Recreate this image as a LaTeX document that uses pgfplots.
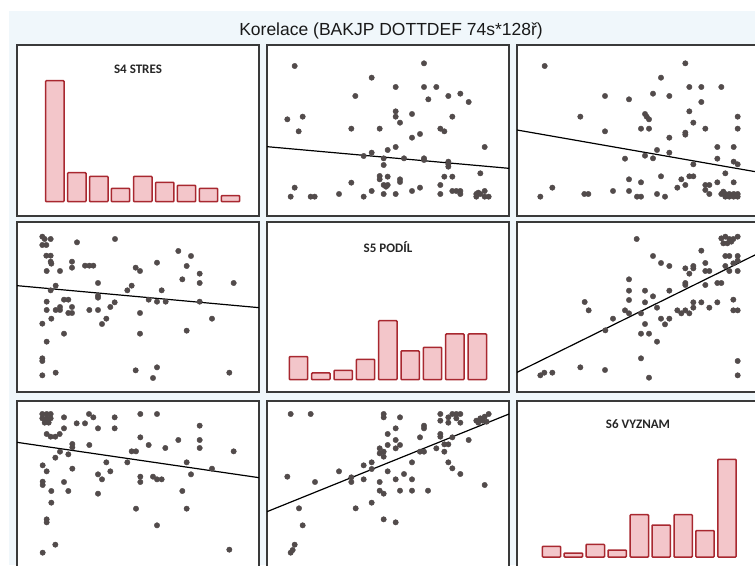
\documentclass[border=0pt]{standalone}
\usepackage{fontspec}
\setmainfont{Liberation Sans}
\newfontfamily\calib{Carlito}
\usepackage{pgfplots}
\pgfplotsset{compat=1.18}
\definecolor{bgblue}{HTML}{F0F7FB}
\definecolor{frame}{HTML}{3A3A3A}
\definecolor{dot}{HTML}{524B4B}
\definecolor{barfill}{HTML}{F3C6CA}
\definecolor{bardraw}{HTML}{A82830}
\tikzset{htitle/.style={font=\calib\bfseries\fontsize{13}{15}\selectfont, text=black!85}}
\pgfplotsset{
  panel/.style={scale only axis, width=242pt, ticks=none, xmin=21, xmax=747,
    axis line style={draw=frame, line width=1.6pt},
    axis background/.style={fill=white}, clip=true, anchor=south west},
  sc/.style={only marks, mark=*, mark size=2.7pt, color=dot, mark options={draw=dot, fill=dot}},
  reg/.style={black, line width=1.2pt, no marks},
  hb/.style={ybar, bar width=55, fill=barfill, draw=bardraw, line width=1.5pt, rounded corners=0.8pt}
}
\begin{document}
\begin{tikzpicture}[x=1pt,y=1pt]
\useasboundingbox (0pt,0pt) rectangle (755pt,565pt);
\clip (0pt,0pt) rectangle (755pt,565pt);
\fill[bgblue] (9pt,0pt) rectangle (755pt,554pt);
\node[font=\fontsize{17.5}{20}\selectfont, text=black!90] at (391pt,534pt) {Korelace (BAKJP DOTTDEF 74s*128ř)};

% Row 1
\begin{axis}[panel, at={(17pt,349pt)}, height=171pt, ymin=-43, ymax=470]
\addplot[hb] coordinates {(134.5,363) (200.5,87) (266.5,76) (331.5,40) (398.5,76) (464,58) (529.5,49) (595.5,40) (661.5,18)};
\node[htitle] at (axis description cs:0.5,0.86) {S4 STRES};
\end{axis}

\begin{axis}[panel, at={(267pt,349pt)}, height=171pt, ymin=15, ymax=528, y dir=reverse]
\addplot[sc] coordinates {
(104,78) (492,70) (335,113) (407,141) (492,141) (529,141) (286,168) (565,168) (601,161)
(505,178) (626,186) (82,238) (128,230) (407,214) (407,230) (420,248) (456,222) (577,230)
(116,274) (274,266) (359,266) (541,266) (553,274) (456,293) (480,282) (383,330) (407,321)
(674,321) (335,338) (311,348) (371,355) (371,375) (432,355) (492,355) (492,360)
(565,365) (565,372) (565,380) (359,408) (359,418) (383,410) (420,418) (420,426)
(553,410) (577,410) (661,400) (274,428) (371,435) (383,435) (378,440) (541,435)
(104,443) (480,443) (92,470) (152,470) (164,470) (237,462) (311,470) (335,453) (371,462)
(407,462) (456,453) (541,462) (577,453) (589,453) (601,453) (601,462)
(649,462) (649,470) (661,462) (674,453) (674,470) (686,470) (655,458)};
\addplot[reg] coordinates {(21,320) (747,385)};
\end{axis}

\begin{axis}[panel, at={(517pt,349pt)}, height=171pt, ymin=15, ymax=528, y dir=reverse]
\addplot[sc] coordinates {
(104,78) (526,70) (453,113) (538,141) (574,141) (634,141) (285,168) (357,178) (429,161) (478,168)
(574,186) (211,230) (405,222) (410,230) (417,238) (538,214) (550,248) (683,230)
(285,274) (393,266) (417,266) (526,278) (526,284) (586,266) (683,266) (478,293)
(441,330) (478,338) (405,347) (429,355) (345,356) (622,321) (671,321)
(622,356) (671,365) (683,373) (550,373) (646,400) (453,409) (538,409) (550,409)
(357,418) (393,427) (514,418) (526,435) (502,443) (622,427) (671,427)
(586,435) (598,435) (586,450) (598,462)
(127,443) (91,470) (223,462) (235,462) (309,453) (357,453) (381,470) (393,470) (441,462) (465,470)
(634,462) (646,462) (658,462) (671,462) (683,462) (646,470) (658,470) (671,470) (683,470) (640,455)};
\addplot[reg] coordinates {(21,270) (747,397)};
\end{axis}

% Row 2
\begin{axis}[panel, at={(17pt,173pt)}, height=170pt, ymin=21, ymax=531, y dir=reverse]
\addplot[sc] coordinates {
(97,65) (104,72) (97,90) (109,90) (122,72) (201,82) (315,72)
(109,122) (122,122) (122,140) (124,146) (186,140) (186,158) (225,152) (238,152) (250,152)
(110,168) (150,168) (505,108) (543,123) (530,153) (441,143) (377,158) (390,168)
(569,176) (517,193) (569,204) (671,204) (264,204) (137,212) (365,212) (352,226) (455,226)
(122,226) (264,242) (264,248) (416,254) (441,260) (467,260) (569,260)
(110,260) (162,254) (175,254) (314,262)
(110,285) (137,285) (150,276) (150,285) (186,276) (175,294) (186,294)
(238,285) (264,285) (301,276) (390,294) (124,311) (289,311) (276,327) (606,311)
(97,326) (162,356) (390,356) (530,347) (110,380) (97,430) (97,438)
(97,481) (137,473) (377,466) (441,457) (429,489) (658,473)};
\addplot[reg] coordinates {(21,212) (747,278)};
\end{axis}

\begin{axis}[panel, at={(267pt,173pt)}, height=170pt, ymin=-37, ymax=473]
\addplot[hb] coordinates {(115.5,69) (182.5,20) (249.5,28) (316.5,61) (383.5,177) (450.5,86) (517.5,97) (584.5,137) (652,137)};
\node[htitle] at (axis description cs:0.5,0.853) {S5 PODÍL};
\end{axis}

\begin{axis}[panel, at={(517pt,173pt)}, height=170pt, ymin=21, ymax=531, y dir=reverse]
\addplot[sc] coordinates {
(380,72) (634,70) (646,65) (658,72) (683,65) (640,85) (652,85) (664,80) (670,72)
(574,107) (429,123) (453,144) (478,153)
(526,160) (550,153) (550,160) (538,176) (586,144) (586,168) (598,168)
(646,123) (658,123) (683,123) (683,137) (646,153) (658,168) (683,168) (670,145)
(357,193) (357,227) (357,255) (405,227) (429,244) (478,227) (526,204) (526,210) (586,210) (622,204) (634,204)
(224,261) (236,286) (405,262) (441,278)
(309,311) (345,286) (357,295) (393,295) (465,328) (478,311) (453,311)
(502,286) (514,295) (526,286) (538,295) (550,262) (550,278) (574,262) (598,278) (622,262)
(670,254) (670,286) (683,286)
(286,346) (405,327) (393,356) (417,356) (441,380)
(393,430) (211,457) (285,465) (417,488)
(91,481) (103,473) (127,473) (683,438) (683,481)};
\addplot[reg] coordinates {(21,472) (747,114)};
\end{axis}

% Row 3
\begin{axis}[panel, at={(17pt,-6pt)}, height=170pt, ymin=33, ymax=543, y dir=reverse]
\addplot[sc] coordinates {
(97,72) (110,72) (122,72) (97,85) (110,85) (122,85) (104,98) (116,98) (110,92)
(162,82) (237,72) (250,82) (314,82) (391,72) (441,72)
(200,100) (225,100) (162,115) (264,115) (314,115) (569,107)
(110,132) (122,140) (136,140) (149,132)
(391,142) (505,150) (569,150)
(187,162) (187,172) (238,165) (416,165) (466,174) (569,174)
(150,185) (175,193) (365,184) (378,184) (671,184)
(136,203) (289,217) (352,217) (530,217)
(98,226) (110,244) (187,236) (301,244) (264,253) (276,268) (543,253) (606,236)
(391,260) (391,276) (429,260) (441,268) (455,268)
(98,275) (98,285) (162,276) (124,303) (175,303) (264,311) (517,303)
(124,338) (378,356) (530,356) (110,388) (110,397) (441,406)
(136,464) (98,488) (658,479)};
\addplot[reg] coordinates {(21,157) (747,263)};
\end{axis}

\begin{axis}[panel, at={(267pt,-6pt)}, height=170pt, ymin=33, ymax=543, y dir=reverse]
\addplot[sc] coordinates {
(92,72) (152,72) (371,72) (371,82) (420,82)
(541,72) (541,92) (565,82) (577,72) (589,72) (601,72) (565,98) (601,98) (589,85)
(649,92) (661,85) (674,80) (686,72) (655,98) (668,92) (680,95)
(407,115) (492,107) (492,115) (383,132) (541,132) (541,140) (577,142) (480,142)
(407,150) (383,165) (420,165) (407,175) (626,150)
(359,175) (359,190) (371,185) (371,200) (553,163) (565,163) (553,185) (529,175)
(480,185) (492,185)
(335,217) (311,226) (335,237) (456,217) (565,217) (577,235) (601,252)
(237,244) (383,244) (432,252)
(82,260) (274,262) (274,276) (311,268) (359,276) (407,268) (456,268) (165,276)
(359,302) (371,311) (420,302) (456,302) (504,302) (674,285)
(335,338) (287,355) (117,355)
(128,406) (371,388) (407,397)
(104,464) (98,480) (92,488)};
\addplot[reg] coordinates {(21,365) (747,72)};
\end{axis}

\begin{axis}[panel, at={(517pt,-6pt)}, height=170pt, ymin=-42, ymax=468]
\addplot[hb] coordinates {(124.5,32) (190,12) (256,38) (321.5,21) (388,127) (453.5,96) (519.5,127) (585,79) (651,293)};
\node[htitle] at (axis description cs:0.5,0.865) {S6 VYZNAM};
\end{axis}
\end{tikzpicture}
\end{document}
